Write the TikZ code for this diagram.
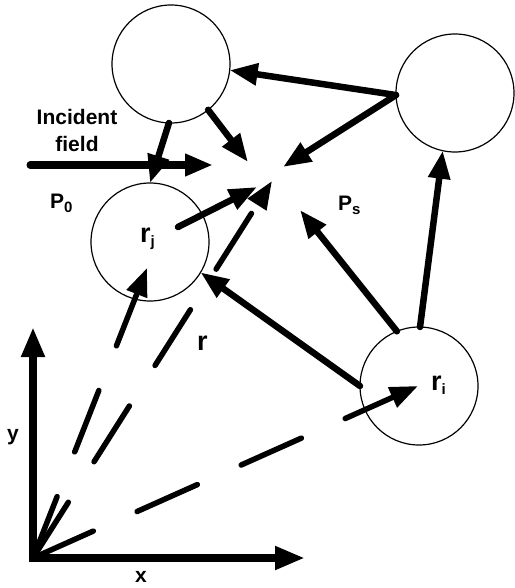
\documentclass[tikz,border=0pt]{standalone}
\usepackage{fontspec}
\newfontfamily\labfont{Liberation Sans}
\usetikzlibrary{arrows.meta}
\newcommand\labsub[1]{\raisebox{-4.5pt}{\fontsize{15}{15}\selectfont #1}}
\begin{document}
\begin{tikzpicture}[x=1pt,y=-1pt,
  line cap=round,
  particle/.style={circle, draw, line width=1.2pt, minimum size=118pt, inner sep=0pt, outer sep=0pt},
  arr/.style={line width=6.5pt, -{Triangle[length=28pt,width=21pt]}},
  axis/.style={line width=7.5pt, line cap=butt, line join=miter, {Triangle[length=30pt,width=22pt]}-{Triangle[length=30pt,width=22pt]}},
  dsh/.style={arr, line width=5.5pt, dash pattern=on 66pt off 48pt},
  lab/.style={font=\labfont\bfseries\fontsize{21}{25}\selectfont, inner sep=0pt},
  rlab/.style={font=\labfont\bfseries\fontsize{27}{30}\selectfont, inner sep=0pt}]
\useasboundingbox (0,0) rectangle (514,588);
% particles
\node[particle] (top) at (171,64) {};
\node[particle] (right) at (455,93) {};
\node[particle] (rj) at (150,242) {};
\node[particle] (ri) at (419,386) {};
% points
\coordinate (O) at (33,558);
\coordinate (xend) at (305,558);
\coordinate (yend) at (33,327);
\coordinate (inc) at (30,165);
\coordinate (incend) at (213,165);
\coordinate (t1) at (248,162);
\coordinate (t2) at (283,167);
\coordinate (t3) at (257,187);
\coordinate (t4) at (272,181);
\coordinate (t5) at (300,210);
\coordinate (rjs) at (178,227);
\coordinate (rjtip) at (147,268);
\coordinate (ritip) at (418,386);
% axes
\draw[axis] (yend) -- (O) -- (xend);
% arrows
\draw[arr, line width=7pt] (inc) -- (incend);
\draw[arr] (top.268) -- (rj.90);
\draw[arr] (top.-51) -- (t1);
\draw[arr] (right.182) -- (top.-6);
\draw[arr] (right.182) -- (t2);
\draw[arr] (rjs) -- (t3);
\draw[arr] (ri.112) -- (t5);
\draw[arr] (ri.89) -- (right.258);
\draw[arr] (ri.180) -- (rj.-31);
% dashed position vectors
\draw[dsh] (O) -- (rjtip);
\draw[dsh] (O) -- (t4);
\draw[dsh] (O) -- (ritip);
% labels
\node[lab, anchor=base] (inc1) at (77,125) {Incident};
\node[lab, anchor=base] (inc2) at (77,152) {field};
\node[lab, anchor=base west] (p0) at (50,208) {P\labsub{0}};
\node[rlab, anchor=base west] (rjl) at (140,242) {r\labsub{j}};
\node[lab, anchor=base west] (psl) at (338,210) {P\labsub{s}};
\node[rlab, anchor=base west] (rl) at (197,350) {r};
\node[rlab, anchor=base west] (ril) at (431,390) {r\labsub{i}};
\node[lab, anchor=base] (yl) at (13,440) {y};
\node[lab, anchor=base] (xl) at (141,582) {x};
\end{tikzpicture}
\end{document}
